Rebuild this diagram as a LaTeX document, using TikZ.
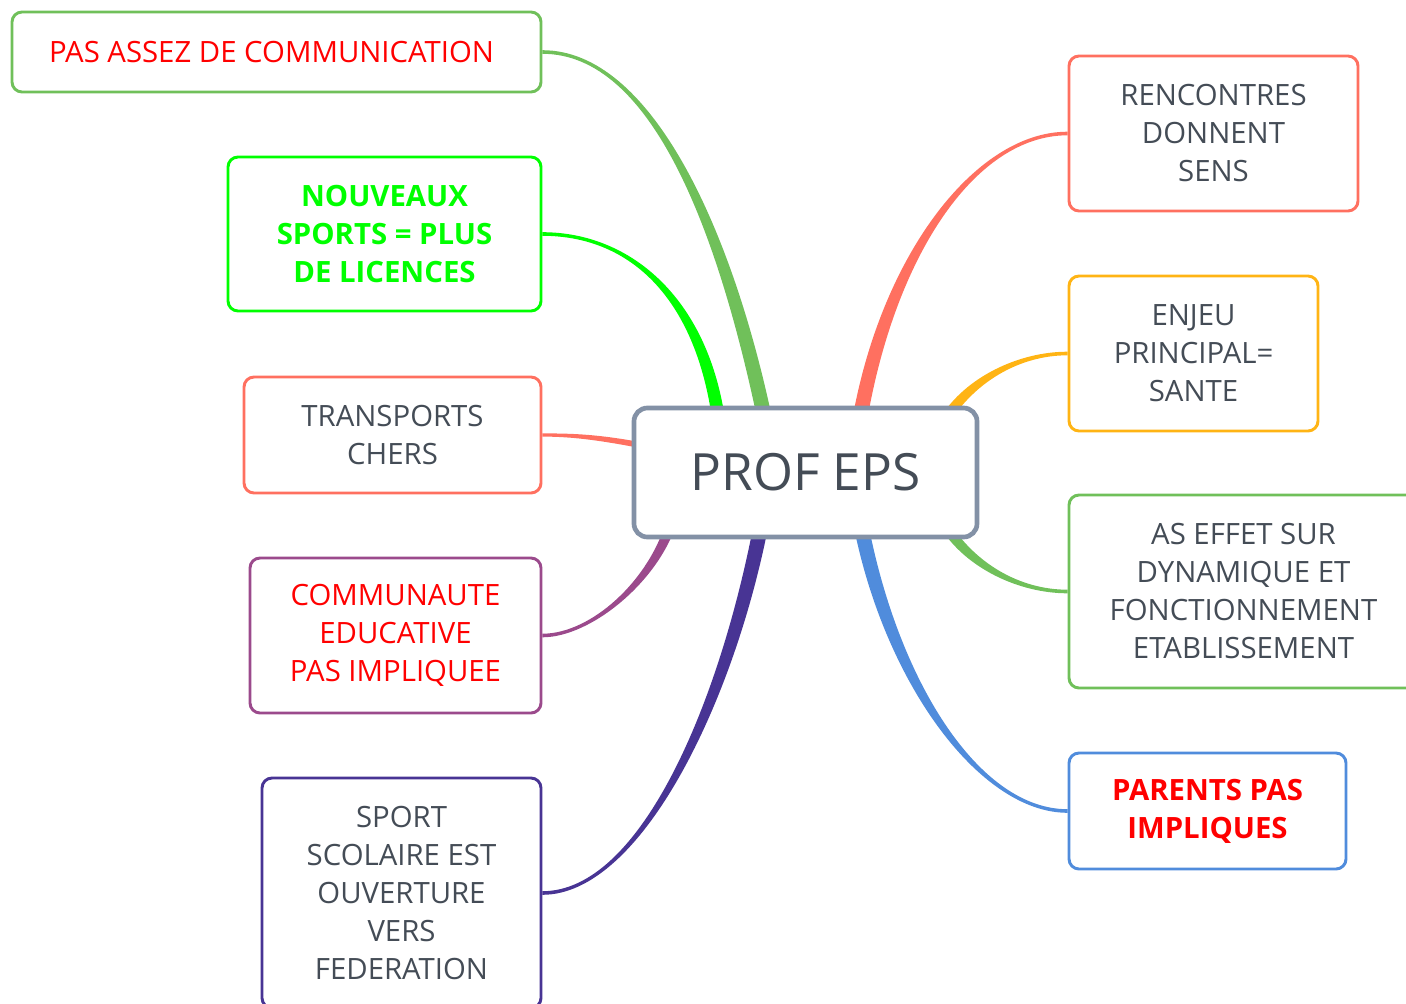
\documentclass[tikz,border=0pt]{standalone}
\usepackage{fontspec}
\setmainfont{Open Sans}
\usetikzlibrary{calc,backgrounds}
\definecolor{tgray}{RGB}{68,76,86}
\definecolor{cgreen}{RGB}{112,192,90}
\definecolor{bgreen}{RGB}{0,255,0}
\definecolor{csalmon}{RGB}{255,112,96}
\definecolor{cpurple}{RGB}{155,74,140}
\definecolor{cdpurple}{RGB}{72,52,148}
\definecolor{corange}{RGB}{255,180,20}
\definecolor{cblue}{RGB}{80,140,220}
\definecolor{cborder}{RGB}{131,145,166}
\definecolor{tred}{RGB}{255,0,0}
\newcommand\branch[7]{\fill[#1] ($(#2)-(#6)$) .. controls ($(#2)+(#4)-(#6)$) and ($(#3)+(#5)-(#7)$) .. ($(#3)-(#7)$) -- ($(#3)+(#7)$) .. controls ($(#3)+(#5)+(#7)$) and ($(#2)+(#4)+(#6)$) .. ($(#2)+(#6)$) -- cycle;}
\tikzset{
  sz/.style 2 args={minimum width=#1*0.75pt,minimum height=#2*0.75pt},
  box/.style={draw=#1,line width=2.2pt,rounded corners=7.5pt,fill=white,align=center,inner sep=0pt,
    font=\fontsize{22}{28.5}\selectfont,text=tgray},
  boldbox/.style={font=\fontsize{22}{28.5}\selectfont\bfseries},
  hub/.style={draw=cborder,line width=3.5pt,rounded corners=10pt,fill=white,inner sep=0pt,
    font=\fontsize{38.5}{46}\selectfont,text=tgray}
}
\begin{document}
\begin{tikzpicture}[x=0.75pt,y=-0.75pt]
\useasboundingbox (0,0) rectangle (1406,1003);
\node[hub,sz={343}{129}] (c) at (805.5,472.5) {PROF EPS};
\node[box=cgreen,sz={529}{80},text=tred] (b1) at (276.5,52) {PAS ASSEZ DE COMMUNICATION\hspace{7.5pt}};
\node[box=bgreen,sz={313}{154},text=bgreen,boldbox] (b2) at (384.5,234) {NOUVEAUX\\SPORTS = PLUS\\DE LICENCES};
\node[box=csalmon,sz={297}{116}] (b3) at (392.5,435) {TRANSPORTS\\CHERS};
\node[box=cpurple,sz={291}{155},text=tred] (b4) at (395.5,635.5) {COMMUNAUTE\\EDUCATIVE\\PAS IMPLIQUEE};
\node[box=cdpurple,sz={279}{230}] (b5) at (401.5,893) {SPORT\\SCOLAIRE EST\\OUVERTURE\\VERS\\FEDERATION};
\node[box=csalmon,sz={289}{155}] (b6) at (1213.5,133.5) {RENCONTRES\\DONNENT\\SENS};
\node[box=corange,sz={249}{155}] (b7) at (1193.5,353.5) {ENJEU\\PRINCIPAL=\\SANTE};
\node[box=cgreen,sz={349}{193}] (b8) at (1243.5,591.5) {AS EFFET SUR\\DYNAMIQUE ET\\FONCTIONNEMENT\\ETABLISSEMENT};
\node[box=cblue,sz={277}{116},text=tred,boldbox] (b9) at (1207.5,811) {PARENTS PAS\\IMPLIQUES};
\coordinate (s1) at ($(c.center)+(-40.5,-52.5)$);
\coordinate (s2) at ($(c.center)+(-85.5,-42.5)$);
\coordinate (s3) at ($(c.center)+(-155.5,-25.5)$);
\coordinate (s4) at ($(c.center)+(-133.5,47.5)$);
\coordinate (s5) at ($(c.center)+(-43.5,47.5)$);
\coordinate (s6) at ($(c.center)+(52.5,-42.5)$);
\coordinate (s7) at ($(c.center)+(139.5,-52.5)$);
\coordinate (s8) at ($(c.center)+(139.5,52.5)$);
\coordinate (s9) at ($(c.center)+(54.5,47.5)$);
\begin{pgfonlayer}{background}
\branch{bgreen}{s2}{b2.east}{-15,-130}{89,0}{6.5,0}{0,-1.8}
\branch{cgreen}{s1}{b1.east}{-40,-190}{109,0}{7.5,0}{0,-1.8}
\branch{csalmon}{s3}{b3.east}{-50,-10}{29,0}{0,3}{0,1.6}
\branch{cpurple}{s4}{b4.east}{-17,60}{49,0}{5.5,0}{0,1.8}
\branch{cdpurple}{s5}{b5.east}{-34,180}{99,0}{7.5,0}{0,1.8}
\branch{csalmon}{s6}{b6.west}{27,-170}{-94,0}{7.5,0}{0,1.8}
\branch{corange}{s7}{b7.west}{25,-40}{-49,0}{4.4,2.8}{0,1.8}
\branch{cgreen}{s8}{b8.west}{25,40}{-49,0}{4.4,-2.8}{0,-1.8}
\branch{cblue}{s9}{b9.west}{30,160}{-89,0}{7.5,0}{0,-1.8}
\end{pgfonlayer}
\end{tikzpicture}
\end{document}
